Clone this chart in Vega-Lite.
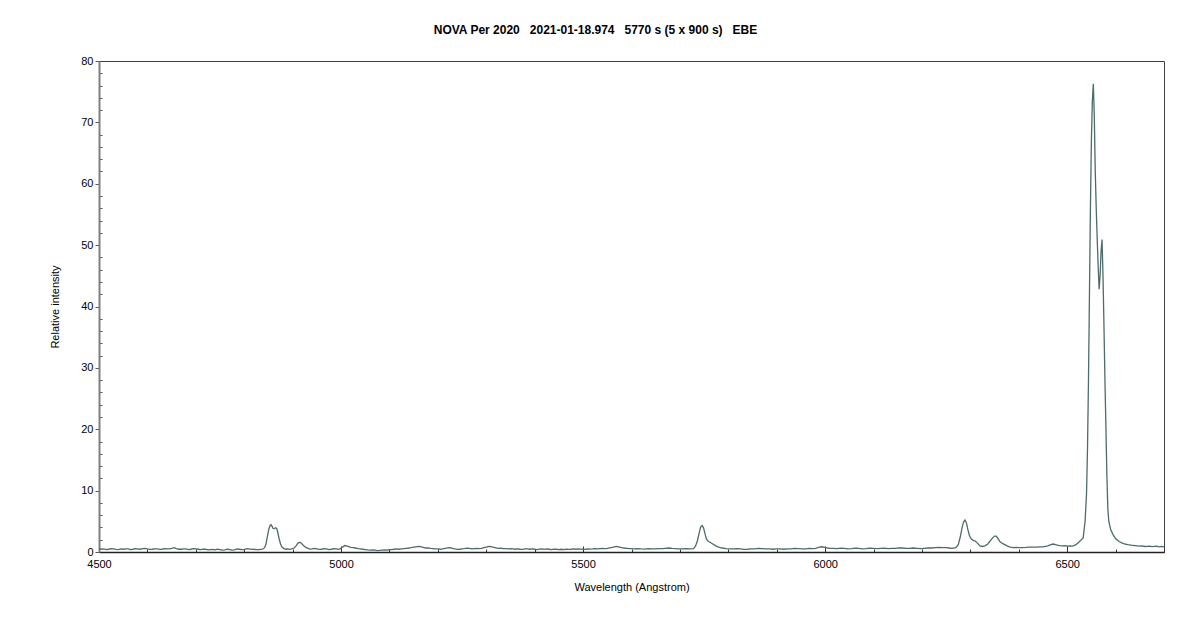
{
  "$schema": "https://vega.github.io/schema/vega-lite/v6.json",
  "width": 1065,
  "height": 491,
  "autosize": "none",
  "padding": {"left": 99, "top": 61, "right": 36, "bottom": 72},
  "background": "white",
  "title": {
    "text": "NOVA Per 2020\u00a0\u00a0 2021-01-18.974\u00a0\u00a0 5770 s (5 x 900 s)\u00a0\u00a0 EBE",
    "font": "Liberation Sans",
    "fontSize": 12,
    "fontWeight": "bold",
    "color": "#000000",
    "anchor": "middle",
    "offset": 18,
    "dx": -36
  },
  "config": {
    "view": {"stroke": "#404040", "strokeWidth": 1},
    "axis": {
      "labelFont": "Liberation Sans",
      "labelFontSize": 11,
      "labelColor": "#000000",
      "titleFont": "Liberation Sans",
      "titleFontSize": 11,
      "titleFontWeight": "normal",
      "titleColor": "#000000",
      "grid": false
    }
  },
  "data": {"values": [
    {"w":4500,"i":0.55},{"w":4505,"i":0.45},{"w":4510,"i":0.5},{"w":4515,"i":0.4},{"w":4520,"i":0.45},{"w":4525,"i":0.55},{"w":4530,"i":0.5},{"w":4535,"i":0.42},{"w":4540,"i":0.4},
    {"w":4545,"i":0.5},{"w":4550,"i":0.45},{"w":4555,"i":0.52},{"w":4560,"i":0.5},{"w":4565,"i":0.4},{"w":4570,"i":0.45},{"w":4575,"i":0.55},{"w":4580,"i":0.5},{"w":4585,"i":0.45},{"w":4590,"i":0.55},
    {"w":4595,"i":0.6},{"w":4600,"i":0.5},{"w":4605,"i":0.42},{"w":4610,"i":0.45},{"w":4615,"i":0.52},{"w":4620,"i":0.5},{"w":4625,"i":0.42},{"w":4630,"i":0.45},{"w":4635,"i":0.55},{"w":4640,"i":0.5},
    {"w":4645,"i":0.52},{"w":4650,"i":0.6},{"w":4655,"i":0.7},{"w":4660,"i":0.55},{"w":4665,"i":0.45},{"w":4670,"i":0.45},{"w":4675,"i":0.52},{"w":4680,"i":0.5},
    {"w":4685,"i":0.4},{"w":4690,"i":0.45},{"w":4695,"i":0.55},{"w":4700,"i":0.5},{"w":4705,"i":0.45},{"w":4710,"i":0.4},{"w":4715,"i":0.48},{"w":4720,"i":0.45},{"w":4725,"i":0.35},{"w":4730,"i":0.4},
    {"w":4735,"i":0.42},{"w":4740,"i":0.35},{"w":4745,"i":0.45},{"w":4750,"i":0.4},{"w":4755,"i":0.3},{"w":4760,"i":0.35},{"w":4765,"i":0.45},{"w":4770,"i":0.4},{"w":4775,"i":0.32},{"w":4780,"i":0.35},
    {"w":4785,"i":0.5},{"w":4790,"i":0.45},{"w":4795,"i":0.38},{"w":4800,"i":0.4},{"w":4805,"i":0.55},{"w":4810,"i":0.5},{"w":4815,"i":0.42},{"w":4820,"i":0.45},{"w":4825,"i":0.38},{"w":4830,"i":0.4},
    {"w":4838,"i":0.45},{"w":4842,"i":0.7},{"w":4845,"i":1.3},{"w":4848,"i":2.6},{"w":4851,"i":3.8},
    {"w":4854,"i":4.4},{"w":4856,"i":4.4},{"w":4858,"i":4.1},{"w":4860,"i":3.8},{"w":4862,"i":3.8},
    {"w":4865,"i":3.95},{"w":4867,"i":3.85},{"w":4869,"i":3.3},{"w":4872,"i":2.2},{"w":4875,"i":1.3},
    {"w":4878,"i":0.8},{"w":4882,"i":0.55},{"w":4886,"i":0.45},{"w":4890,"i":0.5},{"w":4894,"i":0.42},{"w":4898,"i":0.5},{"w":4903,"i":0.65},
    {"w":4907,"i":1.0},{"w":4911,"i":1.45},{"w":4915,"i":1.6},{"w":4919,"i":1.35},{"w":4923,"i":1.0},
    {"w":4927,"i":0.75},{"w":4932,"i":0.6},{"w":4936,"i":0.48},{"w":4940,"i":0.5},{"w":4945,"i":0.58},{"w":4950,"i":0.5},{"w":4955,"i":0.42},{"w":4960,"i":0.45},
    {"w":4965,"i":0.55},{"w":4970,"i":0.5},{"w":4975,"i":0.4},{"w":4980,"i":0.45},{"w":4985,"i":0.55},{"w":4990,"i":0.5},{"w":4994,"i":0.42},{"w":4998,"i":0.5},{"w":5003,"i":0.8},
    {"w":5008,"i":1.05},{"w":5013,"i":0.95},{"w":5020,"i":0.75},{"w":5025,"i":0.7},{"w":5030,"i":0.65},{"w":5035,"i":0.55},{"w":5040,"i":0.5},
    {"w":5045,"i":0.45},{"w":5050,"i":0.4},{"w":5055,"i":0.33},{"w":5060,"i":0.3},{"w":5065,"i":0.35},{"w":5070,"i":0.3},{"w":5075,"i":0.22},{"w":5080,"i":0.25},{"w":5085,"i":0.3},{"w":5090,"i":0.35},
    {"w":5095,"i":0.32},{"w":5100,"i":0.4},{"w":5105,"i":0.38},{"w":5110,"i":0.45},{"w":5115,"i":0.5},{"w":5120,"i":0.45},{"w":5125,"i":0.5},{"w":5130,"i":0.55},{"w":5135,"i":0.6},{"w":5140,"i":0.65},
    {"w":5145,"i":0.72},{"w":5150,"i":0.8},{"w":5155,"i":0.85},{"w":5160,"i":0.9},{"w":5164,"i":0.88},{"w":5168,"i":0.8},{"w":5175,"i":0.65},{"w":5180,"i":0.68},{"w":5185,"i":0.6},
    {"w":5190,"i":0.55},{"w":5195,"i":0.5},{"w":5200,"i":0.52},{"w":5205,"i":0.45},{"w":5210,"i":0.5},{"w":5215,"i":0.6},{"w":5220,"i":0.68},{"w":5225,"i":0.7},{"w":5230,"i":0.6},{"w":5235,"i":0.5},
    {"w":5240,"i":0.42},{"w":5245,"i":0.45},{"w":5250,"i":0.5},{"w":5255,"i":0.55},{"w":5260,"i":0.62},{"w":5265,"i":0.6},{"w":5270,"i":0.5},{"w":5275,"i":0.55},{"w":5280,"i":0.6},{"w":5285,"i":0.55},{"w":5290,"i":0.6},{"w":5295,"i":0.7},
    {"w":5300,"i":0.8},{"w":5304,"i":0.88},{"w":5308,"i":0.9},{"w":5312,"i":0.82},{"w":5316,"i":0.75},{"w":5320,"i":0.68},{"w":5325,"i":0.6},{"w":5330,"i":0.62},{"w":5335,"i":0.55},{"w":5340,"i":0.55},
    {"w":5345,"i":0.5},{"w":5350,"i":0.55},{"w":5355,"i":0.5},{"w":5360,"i":0.45},{"w":5365,"i":0.5},{"w":5370,"i":0.45},{"w":5375,"i":0.42},{"w":5380,"i":0.5},{"w":5385,"i":0.5},{"w":5390,"i":0.45},{"w":5395,"i":0.5},{"w":5400,"i":0.45},
    {"w":5405,"i":0.4},{"w":5410,"i":0.48},{"w":5415,"i":0.5},{"w":5420,"i":0.44},{"w":5425,"i":0.5},{"w":5430,"i":0.45},{"w":5435,"i":0.4},{"w":5440,"i":0.48},{"w":5445,"i":0.45},{"w":5450,"i":0.4},{"w":5455,"i":0.45},{"w":5460,"i":0.4},
    {"w":5465,"i":0.48},{"w":5470,"i":0.42},{"w":5475,"i":0.45},{"w":5480,"i":0.5},{"w":5485,"i":0.45},{"w":5490,"i":0.5},{"w":5495,"i":0.48},{"w":5500,"i":0.42},
    {"w":5505,"i":0.45},{"w":5510,"i":0.5},{"w":5515,"i":0.48},{"w":5520,"i":0.5},{"w":5525,"i":0.55},{"w":5530,"i":0.5},{"w":5535,"i":0.55},{"w":5540,"i":0.6},{"w":5545,"i":0.55},{"w":5550,"i":0.6},{"w":5555,"i":0.68},{"w":5560,"i":0.75},
    {"w":5565,"i":0.85},{"w":5569,"i":0.9},{"w":5573,"i":0.85},{"w":5578,"i":0.75},{"w":5584,"i":0.65},{"w":5590,"i":0.6},{"w":5597,"i":0.55},{"w":5605,"i":0.5},{"w":5612,"i":0.55},{"w":5620,"i":0.5},
    {"w":5627,"i":0.48},{"w":5635,"i":0.55},{"w":5642,"i":0.52},{"w":5650,"i":0.5},{"w":5657,"i":0.55},{"w":5665,"i":0.55},{"w":5670,"i":0.6},{"w":5677,"i":0.65},{"w":5684,"i":0.58},{"w":5690,"i":0.55},
    {"w":5697,"i":0.5},{"w":5705,"i":0.5},{"w":5712,"i":0.55},{"w":5720,"i":0.5},{"w":5728,"i":0.55},{"w":5732,"i":0.9},{"w":5736,"i":1.8},
    {"w":5740,"i":3.2},{"w":5743,"i":4.1},{"w":5746,"i":4.3},{"w":5749,"i":3.9},{"w":5752,"i":2.9},
    {"w":5755,"i":2.1},{"w":5759,"i":1.7},{"w":5763,"i":1.55},{"w":5768,"i":1.3},{"w":5774,"i":1.0},
    {"w":5780,"i":0.8},{"w":5787,"i":0.65},{"w":5795,"i":0.55},{"w":5802,"i":0.5},{"w":5810,"i":0.5},{"w":5817,"i":0.55},{"w":5825,"i":0.5},
    {"w":5832,"i":0.42},{"w":5840,"i":0.45},{"w":5847,"i":0.52},{"w":5855,"i":0.5},{"w":5862,"i":0.58},{"w":5870,"i":0.55},{"w":5877,"i":0.5},{"w":5885,"i":0.5},{"w":5892,"i":0.45},{"w":5900,"i":0.5},
    {"w":5907,"i":0.52},{"w":5915,"i":0.45},{"w":5922,"i":0.5},{"w":5930,"i":0.5},{"w":5937,"i":0.58},{"w":5945,"i":0.55},{"w":5952,"i":0.5},{"w":5960,"i":0.5},{"w":5967,"i":0.58},{"w":5975,"i":0.55},
    {"w":5980,"i":0.6},{"w":5985,"i":0.7},{"w":5989,"i":0.8},{"w":5993,"i":0.85},{"w":5997,"i":0.8},{"w":6000,"i":0.75},{"w":6005,"i":0.65},{"w":6010,"i":0.6},{"w":6017,"i":0.58},{"w":6025,"i":0.55},
    {"w":6032,"i":0.62},{"w":6040,"i":0.6},{"w":6047,"i":0.52},{"w":6055,"i":0.55},{"w":6062,"i":0.62},{"w":6070,"i":0.6},{"w":6077,"i":0.52},{"w":6085,"i":0.55},{"w":6092,"i":0.62},{"w":6100,"i":0.6},
    {"w":6107,"i":0.55},{"w":6115,"i":0.6},{"w":6122,"i":0.62},{"w":6130,"i":0.55},{"w":6137,"i":0.58},{"w":6145,"i":0.6},{"w":6152,"i":0.68},{"w":6160,"i":0.65},{"w":6167,"i":0.6},{"w":6175,"i":0.6},
    {"w":6182,"i":0.65},{"w":6190,"i":0.6},{"w":6197,"i":0.55},{"w":6205,"i":0.6},{"w":6212,"i":0.65},{"w":6220,"i":0.65},{"w":6227,"i":0.7},{"w":6235,"i":0.75},{"w":6242,"i":0.72},{"w":6250,"i":0.7},
    {"w":6256,"i":0.65},{"w":6262,"i":0.6},{"w":6270,"i":0.7},{"w":6275,"i":1.2},{"w":6279,"i":2.4},{"w":6283,"i":4.0},
    {"w":6286,"i":4.9},{"w":6289,"i":5.2},{"w":6292,"i":4.7},{"w":6295,"i":3.6},{"w":6298,"i":2.7},
    {"w":6302,"i":2.1},{"w":6306,"i":1.9},{"w":6310,"i":1.8},{"w":6315,"i":1.4},{"w":6320,"i":1.0},
    {"w":6325,"i":0.9},{"w":6330,"i":1.0},{"w":6336,"i":1.3},{"w":6341,"i":1.8},{"w":6346,"i":2.3},
    {"w":6350,"i":2.6},{"w":6353,"i":2.6},{"w":6357,"i":2.2},{"w":6361,"i":1.7},{"w":6366,"i":1.4},
    {"w":6371,"i":1.2},{"w":6376,"i":1.0},{"w":6382,"i":0.8},{"w":6390,"i":0.7},{"w":6395,"i":0.75},{"w":6400,"i":0.7},{"w":6407,"i":0.72},
    {"w":6415,"i":0.75},{"w":6422,"i":0.8},{"w":6430,"i":0.8},{"w":6437,"i":0.78},{"w":6445,"i":0.85},{"w":6450,"i":0.82},{"w":6455,"i":0.9},{"w":6460,"i":1.0},{"w":6465,"i":1.15},
    {"w":6471,"i":1.3},{"w":6478,"i":1.15},{"w":6484,"i":1.05},{"w":6490,"i":1.0},{"w":6495,"i":1.02},{"w":6500,"i":0.95},{"w":6505,"i":0.98},{"w":6510,"i":0.95},{"w":6514,"i":1.05},
    {"w":6518,"i":1.2},{"w":6524,"i":1.6},{"w":6528,"i":1.9},{"w":6533,"i":2.3},{"w":6537,"i":5.0},
    {"w":6540,"i":9.6},{"w":6542,"i":17},{"w":6544,"i":28},{"w":6546,"i":42},{"w":6548,"i":56},
    {"w":6550,"i":67},{"w":6552,"i":73.5},{"w":6554,"i":76.3},{"w":6556,"i":71},{"w":6558,"i":62},
    {"w":6560,"i":56},{"w":6562,"i":51},{"w":6564,"i":46.5},{"w":6566,"i":42.8},{"w":6568,"i":45},
    {"w":6570,"i":49},{"w":6572,"i":50.9},{"w":6574,"i":45},{"w":6576,"i":36.7},{"w":6578,"i":28},
    {"w":6580,"i":20.4},{"w":6582,"i":12.5},{"w":6584,"i":7.0},{"w":6586,"i":5.0},{"w":6590,"i":3.6},
    {"w":6595,"i":2.8},{"w":6600,"i":2.2},{"w":6607,"i":1.7},{"w":6615,"i":1.4},{"w":6620,"i":1.3},{"w":6625,"i":1.2},{"w":6632,"i":1.12},
    {"w":6640,"i":1.05},{"w":6645,"i":1.0},{"w":6650,"i":0.95},{"w":6655,"i":0.98},{"w":6660,"i":0.9},{"w":6665,"i":0.92},{"w":6670,"i":0.95},{"w":6675,"i":0.88},{"w":6680,"i":0.9},
    {"w":6685,"i":0.95},{"w":6690,"i":0.85},{"w":6695,"i":0.9},{"w":6700,"i":0.85}
  ]},
  "mark": {"type": "line", "color": "#4d6b6b", "strokeWidth": 1.3, "clip": true},
  "encoding": {
    "x": {
      "field": "w", "type": "quantitative",
      "scale": {"domain": [4500, 6700], "nice": false, "zero": false},
      "axis": {
        "title": "Wavelength (Angstrom)",
        "titlePadding": 12,
        "values": [4500,4600,4700,4800,4900,5000,5100,5200,5300,5400,5500,5600,5700,5800,5900,6000,6100,6200,6300,6400,6500,6600,6700],
        "labelExpr": "datum.value % 500 === 0 ? datum.label : ''",
        "format": "d",
        "tickSize": {"condition": {"test": "datum.value % 500 === 0", "value": -6}, "value": -3},
        "tickColor": "#333333",
        "labelPadding": 12,
        "domainColor": "#222222",
        "domainWidth": 1.5,
        "labelFlush": false
      }
    },
    "y": {
      "field": "i", "type": "quantitative",
      "scale": {"domain": [0, 80], "nice": false},
      "axis": {
        "title": "Relative intensity",
        "titlePadding": 20,
        "values": [0,2,4,6,8,10,12,14,16,18,20,22,24,26,28,30,32,34,36,38,40,42,44,46,48,50,52,54,56,58,60,62,64,66,68,70,72,74,76,78,80],
        "labelExpr": "datum.value % 10 === 0 ? datum.label : ''",
        "tickSize": {"condition": {"test": "datum.value % 10 === 0", "value": 4}, "value": -3},
        "tickColor": "#555555",
        "labelPadding": 2,
        "domainColor": "#808080",
        "domainWidth": 2
      }
    }
  }
}
